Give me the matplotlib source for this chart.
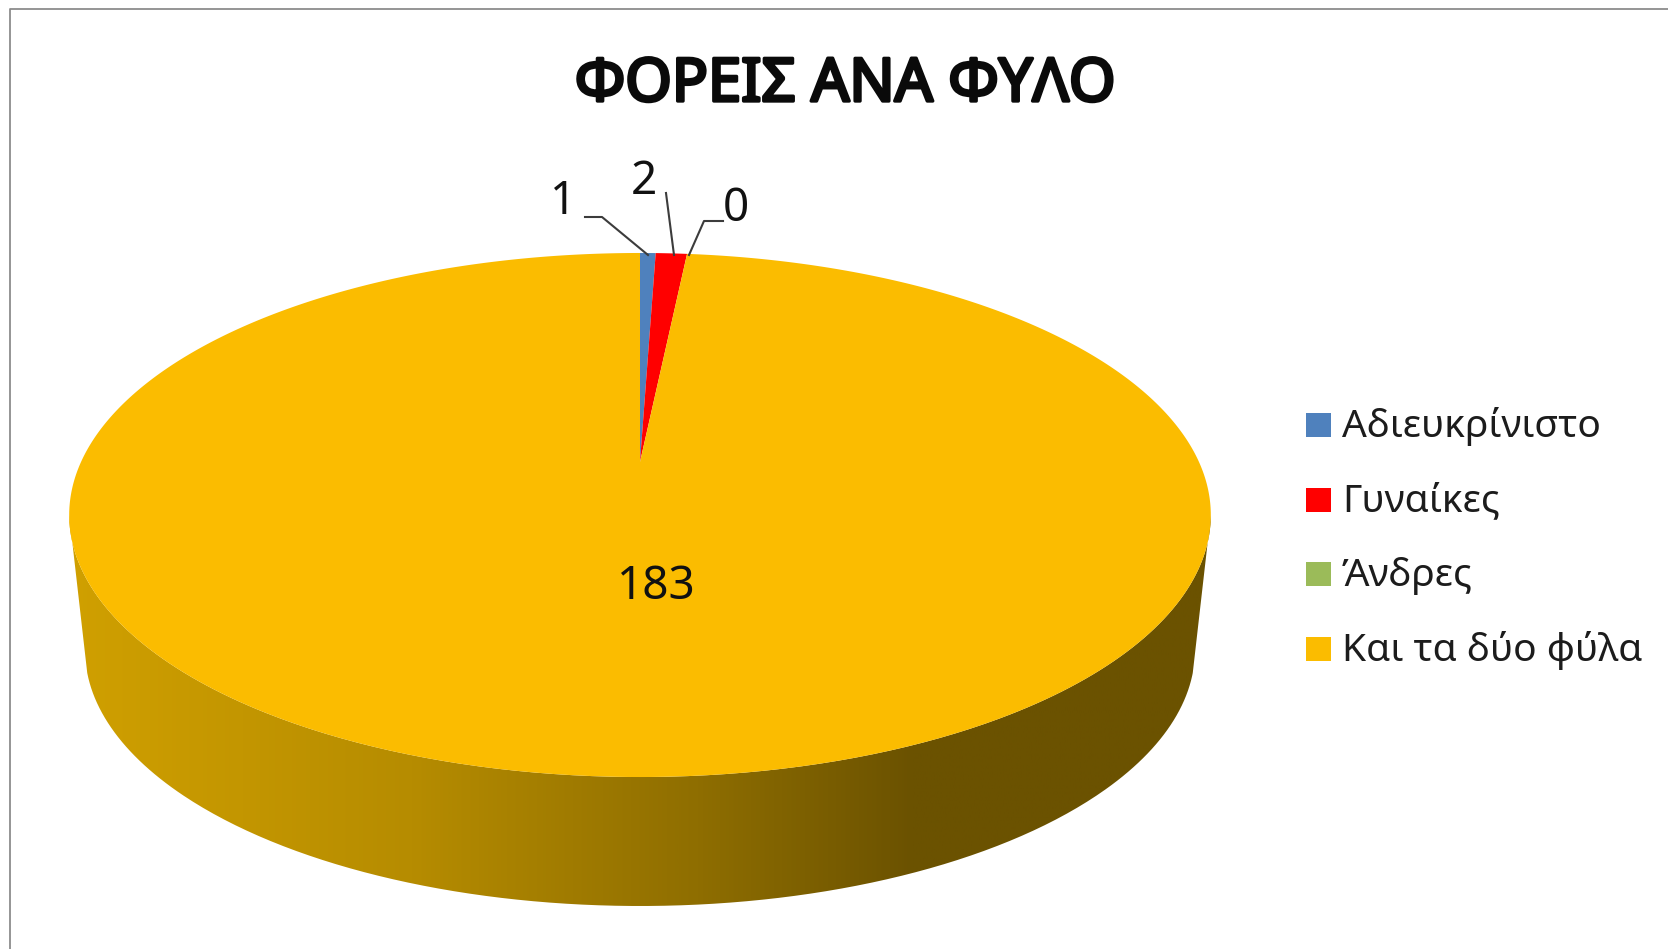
"""Pie chart of organisations by gender, drawn as a tilted 3D disc."""

import matplotlib

matplotlib.use("Agg")
import matplotlib.patheffects as pe
import matplotlib.pyplot as plt
import numpy as np
from matplotlib.colors import LinearSegmentedColormap
from matplotlib.patches import Polygon, Rectangle
from matplotlib.path import Path

TITLE = "ΦΟΡΕΙΣ ΑΝΑ ΦΥΛΟ"
categories = ["Αδιευκρίνιστο", "Γυναίκες", "Άνδρες", "Και τα δύο φύλα"]
values = [1, 2, 0, 183]
colors = ["#4F81BD", "#FF0000", "#9BBB59", "#FBBC00"]

# Disc geometry in pixels
APEX_X, APEX_Y = 640, 462
RIM_A, RIM_B, RIM_K = 251.3, 559.0, 0.2023
BOTTOM_CY, BOTTOM_RX, BOTTOM_RY = 650, 555, 256

plt.rcParams["font.family"] = ["Noto Sans", "DejaVu Sans"]


def rim_points(theta):
    """Project angles (clockwise from the top of the circle) onto the tilted disc."""
    u, v = np.sin(theta), np.cos(theta)
    den = 1 + RIM_K * v
    return APEX_X + RIM_B * u / den, APEX_Y - RIM_A * v / den


fig = plt.figure(figsize=(16.68, 9.49), dpi=100)
ax = fig.add_axes([0, 0, 1, 1])
ax.set_xlim(0, 1668)
ax.set_ylim(949, 0)
ax.axis("off")

# Chart frame
ax.plot([10, 10, 1668], [949, 9, 9], color="#8C8C8C", lw=1.3)

# Side wall: front half of the top rim joined to the lower ellipse
theta_widest = np.arccos(-RIM_K)
theta_front = np.linspace(theta_widest, 2 * np.pi - theta_widest, 300)
top_x, top_y = rim_points(theta_front)
phi = np.linspace(np.pi - 0.09, 0.09, 300)
bot_x = APEX_X + BOTTOM_RX * np.cos(phi)
bot_y = BOTTOM_CY + BOTTOM_RY * np.sin(phi)
wall_x = np.concatenate([top_x, bot_x])
wall_y = np.concatenate([top_y, bot_y])
wall_path = Path(np.column_stack([wall_x, wall_y]))
shade = LinearSegmentedColormap.from_list(
    "wall", [(0, "#D0A000"), (0.3, "#B68C00"), (0.55, "#8F6E00"), (0.74, "#6B5200"), (1, "#6B5200")]
)
img = ax.imshow(
    np.linspace(0, 1, 512).reshape(1, -1),
    cmap=shade,
    extent=[wall_x.min(), wall_x.max(), wall_y.max(), wall_y.min()],
    aspect="auto",
    zorder=1,
)
img.set_clip_path(wall_path, ax.transData)
ax.set_xlim(0, 1668)
ax.set_ylim(949, 0)

# Top of the disc: one slice per value, clockwise from twelve o'clock
edges = np.cumsum([0] + values) / sum(values) * 2 * np.pi
for start, end, color in zip(edges[:-1], edges[1:], colors):
    if end == start:
        continue
    xs, ys = rim_points(np.linspace(start, end, max(int((end - start) * 120), 2)))
    ax.add_patch(
        Polygon(np.column_stack([np.r_[APEX_X, xs], np.r_[APEX_Y, ys]]), closed=True, fc=color, ec="none", zorder=2)
    )

# Data labels and leader lines
ax.text(563, 202, str(values[0]), fontsize=33, color="#111111", ha="center", va="center", zorder=3)
ax.text(644, 182, str(values[1]), fontsize=33, color="#111111", ha="center", va="center", zorder=3)
ax.text(736, 209, str(values[2]), fontsize=33, color="#111111", ha="center", va="center", zorder=3)
ax.text(656, 587, str(values[3]), fontsize=33, color="#111111", ha="center", va="center", zorder=3)
ax.plot([585, 602, 648], [217, 217, 255], color="#3C3C3C", lw=1.5, zorder=3)
ax.plot([666, 674], [193, 255], color="#3C3C3C", lw=1.5, zorder=3)
ax.plot([723, 704, 689], [221, 221, 255], color="#3C3C3C", lw=1.5, zorder=3)

# Title, thickened with a stroke because the regular face is what gets picked
ax.text(
    845, 85, TITLE, fontsize=43, color="#0A0A0A", ha="center", va="center",
    path_effects=[pe.withStroke(linewidth=2.4, foreground="#0A0A0A")],
)

# Legend
for i, (name, color) in enumerate(zip(categories, colors)):
    y = 425 + 74.5 * i
    ax.add_patch(Rectangle((1306, y - 12), 25, 24, fc=color, ec="none"))
    ax.text(1342, y + 2, name, fontsize=28, color="#1C1C1C", ha="left", va="center")

fig.savefig("out.png", dpi=100)
